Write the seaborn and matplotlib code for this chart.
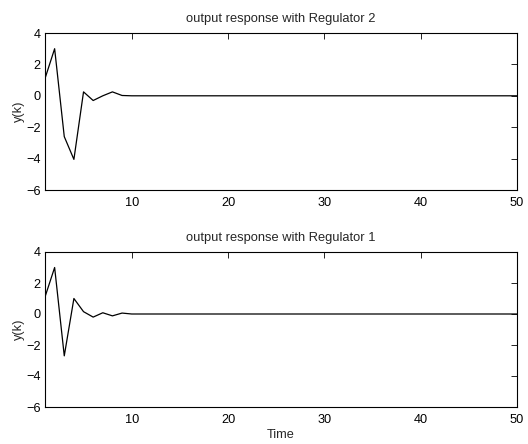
import numpy as np
import pandas as pd
import matplotlib
matplotlib.use("Agg")
import matplotlib.pyplot as plt
import seaborn as sns

# response values (k = 1..50)
k = list(range(1, 51))
y_reg2 = [1.1, 3.0, -2.6, -4.05, 0.25, -0.3, 0.0, 0.25, 0.02, 0.0] + [0.0] * 40
y_reg1 = [1.1, 3.0, -2.7, 1.0, 0.15, -0.2, 0.08, -0.12, 0.06, 0.0] + [0.0] * 40
titles = ["output response with Regulator 2", "output response with Regulator 1"]
y_ticks = [-6, -4, -2, 0, 2, 4]
x_ticks = [10, 20, 30, 40, 50]

sns.set_theme(style="white")
plt.rcParams['font.family'] = ['Liberation Sans', 'DejaVu Sans']
plt.rcParams['font.size'] = 9

fig = plt.figure(figsize=(5.28, 4.44), dpi=100)
ax1 = fig.add_axes([45 / 528, 1 - 190 / 444, 472 / 528, 157 / 444])
ax2 = fig.add_axes([45 / 528, 1 - 407 / 444, 472 / 528, 155 / 444])

for ax, y, title in zip([ax1, ax2], [y_reg2, y_reg1], titles):
    df = pd.DataFrame({"k": k, "y": y})
    sns.lineplot(data=df, x="k", y="y", ax=ax, color="black", linewidth=0.9)
    ax.set_xlim(1, 50)
    ax.set_ylim(-6, 4)
    ax.set_xticks(x_ticks)
    ax.set_yticks(y_ticks)
    ax.set_title(title, fontsize=9.3, pad=8)
    ax.set_ylabel("y(k)", fontsize=9.2, labelpad=1)
    ax.set_xlabel("")
    ax.tick_params(direction="in", top=True, right=True, length=4, width=0.6,
                   labelsize=9.2, colors="black")
    ax.tick_params(axis="x", pad=5)
    ax.tick_params(axis="y", pad=3)
    for s in ax.spines.values():
        s.set_color("black")
        s.set_linewidth(0.8)

ax2.set_xlabel("Time", fontsize=9.2, labelpad=2)

fig.savefig("out.png", dpi=100)
